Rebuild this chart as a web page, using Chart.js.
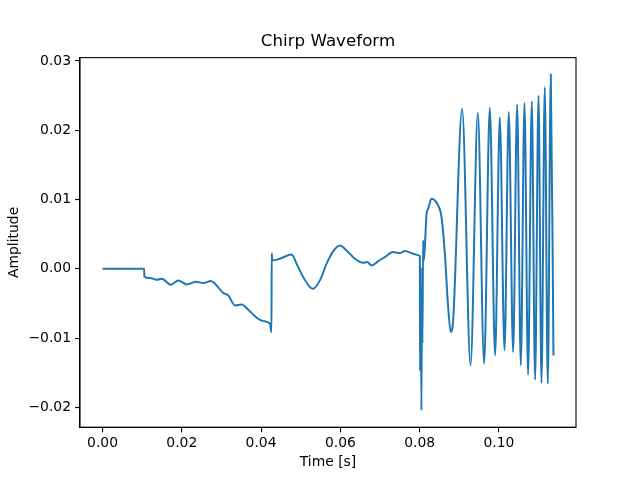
<!DOCTYPE html>
<html>
<head>
<meta charset="utf-8">
<script src="https://cdn.jsdelivr.net/npm/chart.js@4.4.1/dist/chart.umd.min.js"></script>
<style>
  html, body { margin: 0; padding: 0; background: #fff; }
  canvas { display: block; }
</style>
</head>
<body>
<canvas id="chirp" width="640" height="480"></canvas>
<script>
// values
const timeS = [
  0, 0.0105, 0.01054, 0.01198, 0.01367, 0.01493, 0.01727, 0.01912, 0.02123, 0.02358,
  0.02542, 0.02728, 0.02837, 0.03047, 0.03173, 0.03341, 0.0351, 0.03677, 0.03888, 0.04055,
  0.04224, 0.04262, 0.04268, 0.04282, 0.04476, 0.04771, 0.04897, 0.05064, 0.05232, 0.05316,
  0.05485, 0.05653, 0.0582, 0.05989, 0.06157, 0.06367, 0.06577, 0.06677, 0.06788, 0.06955,
  0.07124, 0.07333, 0.07502, 0.07628, 0.07837, 0.07989, 0.08006,
  0.0801, 0.0803, 0.08045, 0.0806, 0.08072, 0.08088, 0.08105, 0.08132,
  0.08175, 0.08215, 0.08301, 0.08384, 0.08468, 0.08553, 0.08637, 0.0872, 0.08788, 0.08846,
  0.09073, 0.09285, 0.09469, 0.09628, 0.09771, 0.09905, 0.10023, 0.10142, 0.1025, 0.10359,
  0.1046, 0.10553, 0.10646, 0.10737, 0.1083, 0.10914, 0.11, 0.11075, 0.11158, 0.11234,
  0.1131, 0.11377
];
const amplitude = [
  0, 0, -0.0011, -0.00134, -0.00158, -0.00143, -0.0023, -0.00167, -0.00225, -0.00186,
  -0.00206, -0.00177, -0.00215, -0.0035, -0.00384, -0.00528, -0.00514, -0.0059, -0.00706, -0.00755,
  -0.00793, -0.00914, 0.00225, 0.00121, 0.00146, 0.00208, 0.00074, -0.0012, -0.00264, -0.00287,
  -0.00167, 0.00074, 0.00256, 0.00338, 0.00266, 0.00146, 0.00088, 0.00097, 0.00049, 0.00111,
  0.00169, 0.00241, 0.00227, 0.00256, 0.00218, 0.00193, 0.00179,
  -0.01467, 0.00025, -0.02044, -0.0031, -0.0108, 0.0041, 0.00121, 0.00313,
  0.00795, 0.00867, 0.01012, 0.00987, 0.00915, 0.00746, 0.00218, -0.00553, -0.00913, -0.00745,
  0.0231, -0.01394, 0.02253, -0.0137, 0.02325, -0.0125, 0.02181, -0.01178, 0.02262, -0.01202,
  0.02373, -0.01394, 0.02392, -0.01529, 0.02416, -0.016, 0.02503, -0.0165, 0.02623, -0.01659,
  0.02806, -0.0125
];

const xTickValues = [0, 0.02, 0.04, 0.06, 0.08, 0.10];
const xTickLabels = ['0.00', '0.02', '0.04', '0.06', '0.08', '0.10'];
const yTickValues = [-0.02, -0.01, 0, 0.01, 0.02, 0.03];
const yTickLabels = ['\u22120.02', '\u22120.01', '0.00', '0.01', '0.02', '0.03'];

const FONT = 'DejaVu Sans';

const points = timeS.map((t, k) => ({ x: t, y: amplitude[k] }));

// matplotlib-like 5% margins around the data
const xSpan = Math.max(...timeS) - Math.min(...timeS);
const ySpan = Math.max(...amplitude) - Math.min(...amplitude);

// top and right spines
const frame = {
  id: 'frame',
  afterDatasetsDraw(chart) {
    const a = chart.chartArea;
    const ctx = chart.ctx;
    ctx.save();
    ctx.strokeStyle = '#000';
    ctx.lineWidth = 1.1;
    ctx.strokeRect(a.left, a.top, a.right - a.left, a.bottom - a.top);
    ctx.restore();
  }
};

new Chart(document.getElementById('chirp'), {
  type: 'line',
  data: {
    datasets: [{
      data: points,
      borderColor: '#1f77b4',
      borderWidth: 2,
      pointRadius: 0,
      fill: false,
      cubicInterpolationMode: 'monotone'
    }]
  },
  options: {
    responsive: false,
    animation: false,
    devicePixelRatio: 1,
    layout: { padding: { left: 0, right: 64, top: 0, bottom: 0 } },
    plugins: {
      legend: { display: false },
      tooltip: { enabled: false },
      title: {
        display: true,
        text: 'Chirp Waveform',
        fullSize: false,
        color: '#000',
        font: { family: FONT, size: 16.7, weight: 'normal' },
        padding: { top: 32, bottom: 5.6 }
      }
    },
    scales: {
      x: {
        type: 'linear',
        min: Math.min(...timeS) - 0.05 * xSpan,
        max: Math.max(...timeS) + 0.05 * xSpan,
        afterBuildTicks(scale) { scale.ticks = xTickValues.map(v => ({ value: v })); },
        afterFit(scale) { scale.height = 52.8; },
        ticks: {
          color: '#000',
          padding: 3,
          maxRotation: 0,
          font: { family: FONT, size: 13.9 },
          callback: (v, i) => xTickLabels[i]
        },
        grid: { drawOnChartArea: false, drawTicks: true, tickLength: 5, color: '#000', lineWidth: 1.1 },
        border: { display: true, color: '#000', width: 1.1 },
        title: {
          display: true,
          text: 'Time [s]',
          color: '#000',
          font: { family: FONT, size: 13.9 },
          padding: { top: 0, bottom: 9.7 }
        }
      },
      y: {
        type: 'linear',
        min: Math.min(...amplitude) - 0.05 * ySpan,
        max: Math.max(...amplitude) + 0.05 * ySpan,
        afterBuildTicks(scale) { scale.ticks = yTickValues.map(v => ({ value: v })); },
        afterFit(scale) { scale.width = 80; },
        ticks: {
          color: '#000',
          padding: 4,
          font: { family: FONT, size: 13.9 },
          callback: (v, i) => yTickLabels[i]
        },
        grid: { drawOnChartArea: false, drawTicks: true, tickLength: 5, color: '#000', lineWidth: 1.1 },
        border: { display: true, color: '#000', width: 1.1 },
        title: {
          display: true,
          text: 'Amplitude',
          color: '#000',
          font: { family: FONT, size: 13.9 },
          padding: { top: 5.7, bottom: 0 }
        }
      }
    }
  },
  plugins: [frame]
});
</script>
</body>
</html>
